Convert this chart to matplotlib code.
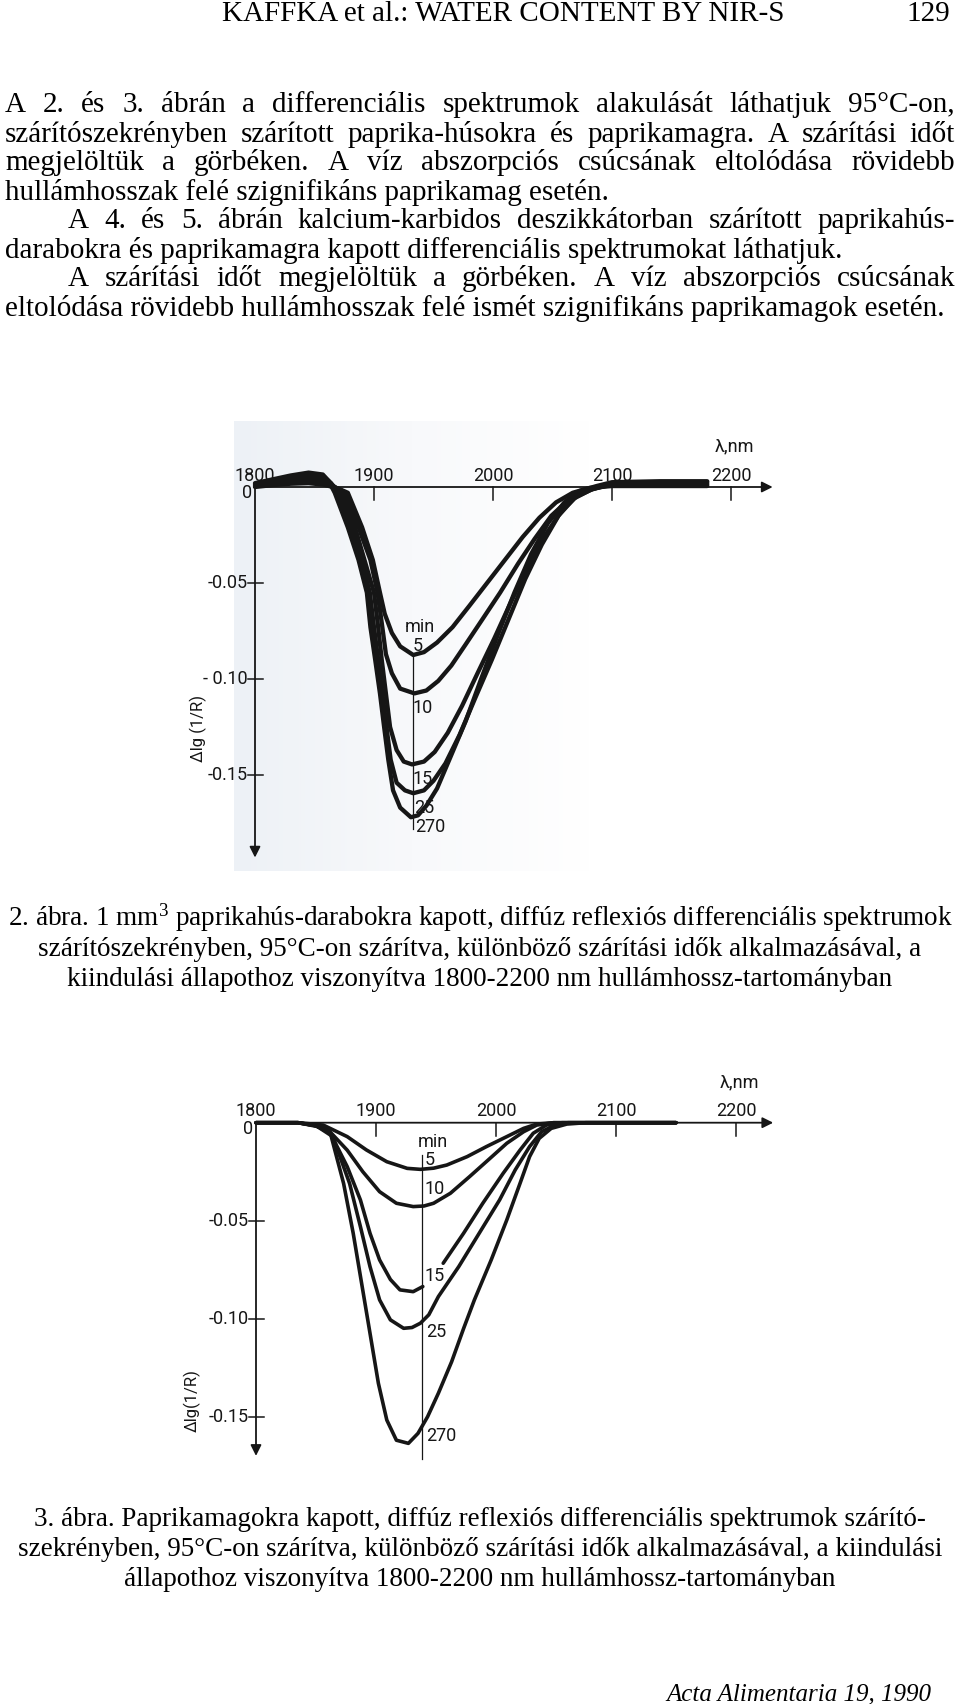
import numpy as np
import matplotlib
matplotlib.use("Agg")
import matplotlib.pyplot as plt
from matplotlib.colors import LinearSegmentedColormap

plt.rcParams["mathtext.fontset"] = "custom"
plt.rcParams["mathtext.rm"] = "Liberation Serif"
plt.rcParams["mathtext.default"] = "regular"

# --- data: Fig. 2 (paprika flesh), wavelength (nm) and delta lg(1/R) per drying time ---
f2_wl_5 = [1800, 1815, 1830, 1845, 1858, 1870, 1878, 1890, 1899, 1905, 1909, 1915, 1922, 1933,
           1942, 1953, 1966, 1980, 1995, 2010, 2025, 2039, 2053, 2067, 2081, 2100, 2140, 2180]
f2_v_5 = [0.000, 0.001, 0.0017, 0.002, 0.0012, -0.0008, -0.003, -0.021, -0.038, -0.055, -0.066, -0.076, -0.083, -0.0875,
          -0.086, -0.081, -0.073, -0.062, -0.050, -0.038, -0.026, -0.016, -0.008, -0.003, -0.0005, 0.0005, 0.0005, 0.0005]

f2_wl_10 = [1800, 1815, 1830, 1845, 1858, 1867, 1876, 1887, 1897, 1903, 1907, 1910, 1915, 1922, 1934,
            1944, 1954, 1965, 1977, 1991, 2006, 2021, 2035, 2049, 2063, 2077, 2095, 2140, 2180]
f2_v_10 = [0.0005, 0.0015, 0.0028, 0.0035, 0.0025, 0.000, -0.003, -0.021, -0.038, -0.055, -0.073, -0.087, -0.097, -0.105, -0.1075,
           -0.106, -0.101, -0.093, -0.082, -0.069, -0.055, -0.040, -0.027, -0.015, -0.007, -0.002, 0.0008, 0.0012, 0.0012]

f2_wl_15 = [1800, 1815, 1830, 1845, 1858, 1865, 1873, 1884, 1892, 1900, 1903.5, 1906.5, 1910, 1913.5, 1919, 1925, 1932,
            1942, 1951, 1962, 1974, 1987, 2001, 2015, 2029, 2043, 2057, 2070, 2084, 2100, 2140, 2180]
f2_v_15 = [0.001, 0.002, 0.0038, 0.005, 0.004, 0.001, -0.003, -0.021, -0.038, -0.055, -0.073, -0.090, -0.1075, -0.125, -0.137, -0.143, -0.1445,
           -0.143, -0.138, -0.128, -0.114, -0.097, -0.079, -0.060, -0.042, -0.026, -0.013, -0.005, -0.001, 0.0012, 0.0018, 0.0018]

f2_wl_25 = [1800, 1815, 1830, 1845, 1858, 1864, 1870, 1881, 1889.5, 1896.5, 1900, 1903.5, 1907, 1910.5, 1914, 1919, 1926, 1933,
            1942, 1950, 1960, 1972, 1985, 1999, 2013, 2027, 2041, 2055, 2068, 2082, 2100, 2140, 2180]
f2_v_25 = [0.0015, 0.003, 0.005, 0.0065, 0.0055, 0.002, -0.003, -0.021, -0.038, -0.055, -0.073, -0.090, -0.1075, -0.125, -0.142, -0.154, -0.158, -0.1595,
           -0.158, -0.153, -0.144, -0.129, -0.110, -0.090, -0.069, -0.048, -0.030, -0.015, -0.006, -0.0015, 0.0018, 0.0025, 0.0025]

f2_wl_270 = [1800, 1815, 1830, 1845, 1857, 1862, 1867, 1878, 1887, 1894, 1897, 1901, 1905, 1908.5, 1912, 1916, 1922, 1931,
             1937, 1944, 1953, 1964, 1977, 1990, 2004, 2018, 2032, 2046, 2060, 2073, 2087, 2100, 2140, 2180]
f2_v_270 = [0.002, 0.004, 0.006, 0.0075, 0.0065, 0.003, -0.003, -0.021, -0.038, -0.055, -0.073, -0.090, -0.1075, -0.125, -0.142, -0.158, -0.167, -0.172,
            -0.171, -0.166, -0.157, -0.141, -0.122, -0.100, -0.077, -0.055, -0.035, -0.019, -0.008, -0.002, 0.0005, 0.0025, 0.003, 0.003]

# --- data: Fig. 3 (paprika seeds) ---
f3_wl_5 = [1800, 1835, 1856, 1876, 1892, 1909, 1926, 1937, 1948, 1959, 1976, 1992, 2009, 2023, 2034, 2048, 2150]
f3_v_5 = [0, 0, -0.0012, -0.0071, -0.0139, -0.0199, -0.0233, -0.0238, -0.0232, -0.0216, -0.0173, -0.0122, -0.0071, -0.0029, -0.0007, 0, 0]

f3_wl_10 = [1800, 1835, 1859, 1876, 1889, 1903, 1917, 1931, 1940, 1948, 1962, 1978, 1995, 2009, 2023, 2034, 2048, 2150]
f3_v_10 = [0, 0, -0.0029, -0.014, -0.025, -0.0352, -0.0411, -0.0428, -0.0425, -0.0411, -0.036, -0.0275, -0.0182, -0.0105, -0.0046, -0.0012, 0, 0]

# the 15 min curve is interrupted where its label sits
f3_wl_15 = [1800, 1835, 1850, 1862, 1876, 1887, 1895, 1903, 1912, 1920, 1931, 1939, np.nan,
            1956, 1973, 1989, 2006, 2020, 2031, 2042, 2055, 2150]
f3_v_15 = [0, 0, -0.0015, -0.0054, -0.0224, -0.0394, -0.0564, -0.070, -0.080, -0.0853, -0.0862, -0.0836, np.nan,
           -0.0717, -0.0564, -0.0411, -0.0258, -0.014, -0.0054, -0.0012, 0, 0]

f3_wl_25 = [1800, 1835, 1850, 1864, 1878, 1887, 1895, 1903, 1912, 1923, 1930, 1937, 1944, 1952, 1969, 1986, 2003,
            2016, 2028, 2038, 2049, 2060, 2150]
f3_v_25 = [0, 0, -0.0015, -0.0071, -0.031, -0.053, -0.0734, -0.0904, -0.1006, -0.1049, -0.1045, -0.1023, -0.098, -0.0887, -0.0734, -0.0564, -0.0394,
           -0.0241, -0.0122, -0.0046, -0.0012, 0, 0]

f3_wl_270 = [1800, 1835, 1850, 1862, 1873, 1881, 1888, 1895, 1902, 1909, 1917, 1927, 1935, 1943, 1952, 1963, 1973, 1982,
             1996, 2009, 2020, 2028, 2036, 2046, 2059, 2075, 2150]
f3_v_270 = [0, 0, -0.0015, -0.0054, -0.031, -0.0564, -0.0819, -0.1074, -0.133, -0.1517, -0.162, -0.1636, -0.1585, -0.150, -0.138, -0.122, -0.105, -0.0904,
            -0.070, -0.0496, -0.031, -0.0173, -0.008, -0.0029, -0.0007, 0, 0]

minutes = ["5", "10", "15", "25", "270"]
x_ticks = [1800, 1900, 2000, 2100, 2200]
y_ticks = [-0.05, -0.10, -0.15]
f2_ytick_labels = ["-0.05", "- 0.10", "-0.15"]
f3_ytick_labels = ["-0.05", "-0.10", "-0.15"]

# --- page text ---
header = "KAFFKA et al.: WATER CONTENT BY NIR-S"
page_no = "129"
body = [
    ("A 2. és 3. ábrán a differenciális spektrumok alakulását láthatjuk 95°C-on,", True, 5),
    ("szárítószekrényben szárított paprika-húsokra és paprikamagra. A szárítási időt", True, 5),
    ("megjelöltük a görbéken. A víz abszorpciós csúcsának eltolódása rövidebb", True, 5),
    ("hullámhosszak felé szignifikáns paprikamag esetén.", False, 5),
    ("A 4. és 5. ábrán kalcium-karbidos deszikkátorban szárított paprikahús-", True, 68),
    ("darabokra és paprikamagra kapott differenciális spektrumokat láthatjuk.", False, 5),
    ("A szárítási időt megjelöltük a görbéken. A víz abszorpciós csúcsának", True, 68),
    ("eltolódása rövidebb hullámhosszak felé ismét szignifikáns paprikamagok esetén.", False, 5),
]
caption2 = [
    "2. ábra. 1 mm$^3$ paprikahús-darabokra kapott, diffúz reflexiós differenciális spektrumok",
    "szárítószekrényben, 95°C-on szárítva, különböző szárítási idők alkalmazásával, a",
    "kiindulási állapothoz viszonyítva 1800-2200 nm hullámhossz-tartományban",
]
caption3 = [
    "3. ábra. Paprikamagokra kapott, diffúz reflexiós differenciális spektrumok szárító-",
    "szekrényben, 95°C-on szárítva, különböző szárítási idők alkalmazásával, a kiindulási",
    "állapothoz viszonyítva 1800-2200 nm hullámhossz-tartományban",
]
footer = "Acta Alimentaria 19, 1990"

W, H = 960, 1704
SERIF = "Liberation Serif"
SANS = "Roboto"
BODY_FS = 21
CAP_FS = 19.5
LAB_FS = 13
INK = "#161616"

fig = plt.figure(figsize=(W / 100, H / 100), dpi=100)
fig.patch.set_facecolor("white")
renderer = fig.canvas.get_renderer()


def fx(x):
    return x / W


def fy(y):
    return 1 - y / H


def line_text(s, y, x0, justify, x1=955):
    base = y + 7
    if not justify:
        fig.text(fx(x0), fy(base), s, fontsize=BODY_FS, family=SERIF, va="baseline", ha="left")
        return
    words = s.split(" ")
    objs = [fig.text(0, fy(base), w, fontsize=BODY_FS, family=SERIF, va="baseline", ha="left") for w in words]
    widths = [o.get_window_extent(renderer).width for o in objs]
    gap = (x1 - x0 - sum(widths)) / (len(words) - 1)
    x = x0
    for o, w in zip(objs, widths):
        o.set_x(fx(x))
        x += w + gap


# header and running text
fig.text(fx(503), fy(21), header, fontsize=BODY_FS, family=SERIF, ha="center", va="baseline")
fig.text(fx(950), fy(21), page_no, fontsize=BODY_FS, family=SERIF, ha="right", va="baseline")
for i, (s, just, x0) in enumerate(body):
    line_text(s, 105.5 + i * 29.0, x0, just)

for i, s in enumerate(caption2):
    fig.text(fx(480), fy(926 + i * 30), s, fontsize=CAP_FS, family=SERIF, ha="center", va="baseline")
for i, s in enumerate(caption3):
    fig.text(fx(480), fy(1526 + i * 30), s, fontsize=CAP_FS, family=SERIF, ha="center", va="baseline")
fig.text(fx(931), fy(1700), footer, fontsize=18, family=SERIF, style="italic", ha="right", va="baseline")


def make_axes(x1800, y0, px_nm, px_unit, xlim=(1740, 2260), ylim=(-0.21, 0.04)):
    left = x1800 - (1800 - xlim[0]) * px_nm
    right = x1800 + (xlim[1] - 1800) * px_nm
    top = y0 - ylim[1] * px_unit
    bottom = y0 - ylim[0] * px_unit
    ax = fig.add_axes([fx(left), fy(bottom), (right - left) / W, (bottom - top) / H])
    ax.set_xlim(*xlim)
    ax.set_ylim(*ylim)
    ax.set_axis_off()
    ax.patch.set_alpha(0)
    return ax


def draw_frame(ax, ytick_labels, x_end, y_end, lam_y):
    ax.annotate("", xy=(x_end, 0), xytext=(1800, 0),
                arrowprops=dict(arrowstyle="-|>", lw=1.3, color=INK, mutation_scale=16, shrinkA=0, shrinkB=0))
    ax.annotate("", xy=(1800, y_end), xytext=(1800, 0),
                arrowprops=dict(arrowstyle="-|>", lw=1.3, color=INK, mutation_scale=16, shrinkA=0, shrinkB=0))
    for t in x_ticks:
        if t != 1800:
            ax.plot([t, t], [0, -0.007], color=INK, lw=1.1)
        ax.text(t, 0.0012, str(t), fontsize=LAB_FS, family=SANS, ha="center", va="bottom", color=INK)
    ax.text(1798, -0.003, "0", fontsize=LAB_FS, family=SANS, ha="right", va="center", color=INK)
    for t, lab in zip(y_ticks, ytick_labels):
        ax.plot([1794, 1807], [t, t], color=INK, lw=1.1)
        ax.text(1794, t, lab, fontsize=LAB_FS, family=SANS, ha="right", va="center", color=INK)
    ax.text(2203, lam_y, "λ,nm", fontsize=LAB_FS, family=SANS, ha="center", va="center", color=INK)


# ---------- Fig. 2 ----------
ax1 = make_axes(255, 487, 1.19, 1920)
# faint tint of the scanned photograph, fading to the right
tint = LinearSegmentedColormap.from_list("tint", ["#edf1f6", "#f8f9fb", "#ffffff"])
ax1.imshow(np.linspace(0, 1, 256).reshape(1, -1), cmap=tint, aspect="auto",
           extent=(1782, 2080, -0.200, 0.034), zorder=0, interpolation="bicubic")
ax1.set_xlim(1740, 2260)
ax1.set_ylim(-0.21, 0.04)
draw_frame(ax1, f2_ytick_labels, 2235, -0.193, 0.021)
f2_curves = [(f2_wl_5, f2_v_5), (f2_wl_10, f2_v_10), (f2_wl_15, f2_v_15), (f2_wl_25, f2_v_25), (f2_wl_270, f2_v_270)]
for wl, v in f2_curves:
    ax1.plot(wl, v, color=INK, lw=3.1, solid_capstyle="round", solid_joinstyle="round")
ax1.plot([1933, 1933], [-0.0885, -0.178], color=INK, lw=0.9)
ax1.text(1938.5, -0.0728, "min", fontsize=LAB_FS, family=SANS, ha="center", va="center", color=INK)
for lab, (lx, ly) in zip(minutes, [(1937, -0.0828), (1941, -0.115), (1941, -0.152), (1942, -0.167), (1947.5, -0.177)]):
    ax1.text(lx, ly, lab, fontsize=LAB_FS, family=SANS, ha="center", va="center", color=INK)
ax1.text(1752, -0.126, "Δlg (1/R)", fontsize=12, family=SANS, rotation=90, ha="center", va="center", color=INK)

# ---------- Fig. 3 ----------
ax2 = make_axes(256, 1122.7, 1.2, 1960)
draw_frame(ax2, f3_ytick_labels, 2231, -0.170, 0.0205)
f3_curves = [(f3_wl_5, f3_v_5), (f3_wl_10, f3_v_10), (f3_wl_15, f3_v_15), (f3_wl_25, f3_v_25), (f3_wl_270, f3_v_270)]
for wl, v in f3_curves:
    ax2.plot(wl, v, color=INK, lw=2.6, solid_capstyle="round", solid_joinstyle="round")
ax2.plot([1938, 1938], [-0.0165, -0.1715], color=INK, lw=0.9)
ax2.text(1947.8, -0.0097, "min", fontsize=LAB_FS, family=SANS, ha="center", va="center", color=INK)
for lab, (lx, ly) in zip(minutes, [(1945, -0.019), (1949, -0.034), (1949, -0.078), (1950, -0.1066), (1954.4, -0.160)]):
    ax2.text(lx, ly, lab, fontsize=LAB_FS, family=SANS, ha="center", va="center", color=INK)
ax2.text(1747, -0.142, "Δlg(1/R)", fontsize=12, family=SANS, rotation=90, ha="center", va="center", color=INK)

fig.savefig("out.png", dpi=100, facecolor="white")
